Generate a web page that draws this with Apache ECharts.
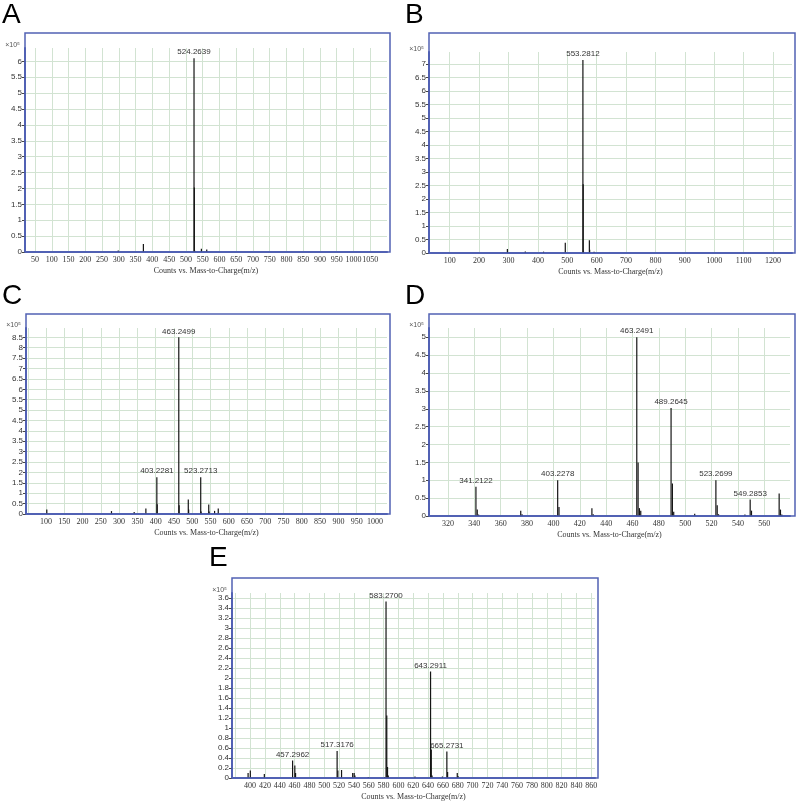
<!DOCTYPE html>
<html>
<head>
<meta charset="utf-8">
<script src="https://cdn.jsdelivr.net/npm/echarts@6/dist/echarts.min.js"></script>
<style>
  html, body { margin: 0; padding: 0; background: #fff; }
  #chart { width: 800px; height: 803px; }
</style>
</head>
<body>
<div id="chart"></div>
<script>
// 峰数据：m/z 与强度 (×10^5)
const aMz = [298.2, 373.2, 524.2639, 525.2672, 526.27, 546.25, 562.22]
const aInt = [0.05, 0.25, 6.1, 2.03, 0.04, 0.1, 0.08]
const aLabels = ['524.2639']

const bMz = [296.2, 357.2, 419.2, 493.3, 553.2812, 554.2845, 555.29, 575.26, 576.27, 591.3]
const bInt = [0.15, 0.06, 0.05, 0.38, 7.15, 2.55, 0.05, 0.47, 0.12, 0.05]
const bLabels = ['553.2812']

const cMz = [102.1, 279.1, 341.2, 373.2, 403.2281, 404.23, 463.2499, 464.25, 465.26, 489.26, 490.27, 523.2713, 524.27, 545.25, 546.26, 561.2, 571.24, 590.2]
const cInt = [0.22, 0.14, 0.1, 0.27, 1.77, 0.47, 8.5, 0.42, 0.05, 0.7, 0.22, 1.77, 0.12, 0.46, 0.12, 0.15, 0.27, 0.03]
const cLabels = ['403.2281', '463.2499', '523.2713']

const dMz = [341.2122, 342.21, 343.22, 375.2, 376.2, 401.2, 403.2278, 404.23, 429.2, 430.2, 463.2491, 464.25, 465.26, 466.26, 489.2645, 490.27, 491.27, 507.2, 523.2699, 524.27, 525.28, 545.3, 549.2853, 550.29, 571.27, 572.27, 573.28]
const dInt = [0.82, 0.18, 0.04, 0.15, 0.05, 0.03, 1.0, 0.25, 0.22, 0.05, 5.0, 1.5, 0.22, 0.15, 3.02, 0.91, 0.12, 0.06, 1.0, 0.3, 0.05, 0.04, 0.46, 0.15, 0.63, 0.18, 0.04]
const dLabels = ['341.2122', '403.2278', '463.2491', '489.2645', '523.2699', '549.2853']

const eMz = [397.3, 400.3, 419.2, 457.2962, 460.3, 461.3, 517.3176, 518.32, 523.3, 538.3, 540.3, 541.3, 559.3, 581.3, 583.27, 584.27, 585.28, 586.3, 622.3, 643.2911, 644.29, 645.3, 659.3, 665.2731, 666.28, 679.3, 680.3]
const eInt = [0.1, 0.15, 0.08, 0.35, 0.25, 0.1, 0.54, 0.15, 0.16, 0.1, 0.1, 0.05, 0.02, 0.02, 3.53, 1.25, 0.22, 0.05, 0.03, 2.13, 0.57, 0.05, 0.03, 0.53, 0.12, 0.1, 0.04]
const eLabels = ['457.2962', '517.3176', '583.2700', '643.2911', '665.2731']

// 坐标轴范围与刻度
const xRanges = [[20, 1100], [29.4, 1265], [45.2, 1033], [305.6, 579.5], [375.6, 865]]
const xSteps = [50, 100, 50, 20, 20]
const xLabelFrom = [50, 100, 100, 320, 400]
const yMaxes = [6.42, 7.45, 8.95, 5.26, 3.7]
const ySteps = [0.5, 0.5, 0.5, 0.5, 0.2]
const letters = ['A', 'B', 'C', 'D', 'E']

const mzList = [aMz, bMz, cMz, dMz, eMz]
const intList = [aInt, bInt, cInt, dInt, eInt]
const labelList = [aLabels, bLabels, cLabels, dLabels, eLabels]

// 版面
const grids = [
  { left: 25, top: 48, width: 362, height: 204 },
  { left: 429, top: 52, width: 363, height: 201 },
  { left: 26, top: 328, width: 361, height: 186 },
  { left: 429, top: 328, width: 361, height: 188 },
  { left: 232, top: 593, width: 363, height: 185 },
]
const frames = [
  [25, 33, 365, 219],
  [429, 33, 366, 220],
  [26, 314, 364, 200],
  [429, 314, 366, 202],
  [232, 578, 366, 200],
]
const letterPos = [[2, 1], [405, 1], [2, 282], [405, 282], [209, 544]]

const BLUE = '#5262b4'
const GRID_C = '#d2e3d2'

const chart = echarts.init(document.getElementById('chart'))

const xAxis = grids.map((g, i) => ({
  type: 'value', gridIndex: i,
  min: xRanges[i][0], max: xRanges[i][1],
  minInterval: xSteps[i], maxInterval: xSteps[i],
  axisLine: { lineStyle: { color: BLUE, width: 2 } },
  axisTick: { show: false },
  axisLabel: {
    color: '#333', fontSize: 8, fontFamily: 'Liberation Serif', margin: 4, showMinLabel: false, showMaxLabel: false,
    formatter: v => (v < xLabelFrom[i] ? '' : String(v)),
  },
  splitLine: { show: true, showMinLine: false, showMaxLine: false, lineStyle: { color: GRID_C, width: 1 } },
  name: 'Counts vs. Mass-to-Charge(m/z)', nameLocation: 'middle', nameGap: 15,
  nameTextStyle: { color: '#333', fontSize: 8, fontFamily: 'Liberation Serif' },
}))

const yAxis = grids.map((g, i) => ({
  type: 'value', gridIndex: i,
  min: 0, max: yMaxes[i], interval: ySteps[i],
  axisLine: { show: true, lineStyle: { color: BLUE, width: 2 } },
  axisTick: { show: true, length: 3, lineStyle: { color: '#444' } },
  axisLabel: { color: '#333', fontSize: 8, fontFamily: 'Liberation Sans', margin: 3, showMaxLabel: false, formatter: v => String(v) },
  splitLine: { show: true, showMinLine: false, showMaxLine: false, lineStyle: { color: GRID_C, width: 1 } },
  name: '×10⁵', nameLocation: 'end', nameGap: 3,
  nameTextStyle: { color: '#555', fontSize: 7, fontFamily: 'Liberation Sans', align: 'right', verticalAlign: 'middle', padding: [0, 5, 0, 0] },
}))

const series = grids.map((g, i) => ({
  type: 'bar', xAxisIndex: i, yAxisIndex: i,
  barWidth: 1.2, barGap: '-100%',
  itemStyle: { color: '#151515' },
  silent: true,
  data: mzList[i].map((m, k) => {
    const txt = m.toFixed(4)
    const item = { value: [m, intList[i][k]] }
    if (labelList[i].includes(txt)) {
      item.label = { show: true, position: 'top', distance: 2, formatter: txt, color: '#333', fontSize: 8, fontFamily: 'Liberation Sans' }
    }
    return item
  }),
}))

const graphic = []
frames.forEach(f => {
  graphic.push({ type: 'rect', z: 100, shape: { x: f[0], y: f[1], width: f[2], height: f[3] }, style: { fill: 'none', stroke: BLUE, lineWidth: 1.5 } })
})
letters.forEach((t, i) => {
  graphic.push({ type: 'text', x: letterPos[i][0], y: letterPos[i][1], style: { text: t, fill: '#000', fontSize: 28, fontFamily: 'Liberation Sans', verticalAlign: 'top' } })
})

chart.setOption({
  animation: false,
  grid: grids,
  xAxis, yAxis, series, graphic,
})
</script>
</body>
</html>
